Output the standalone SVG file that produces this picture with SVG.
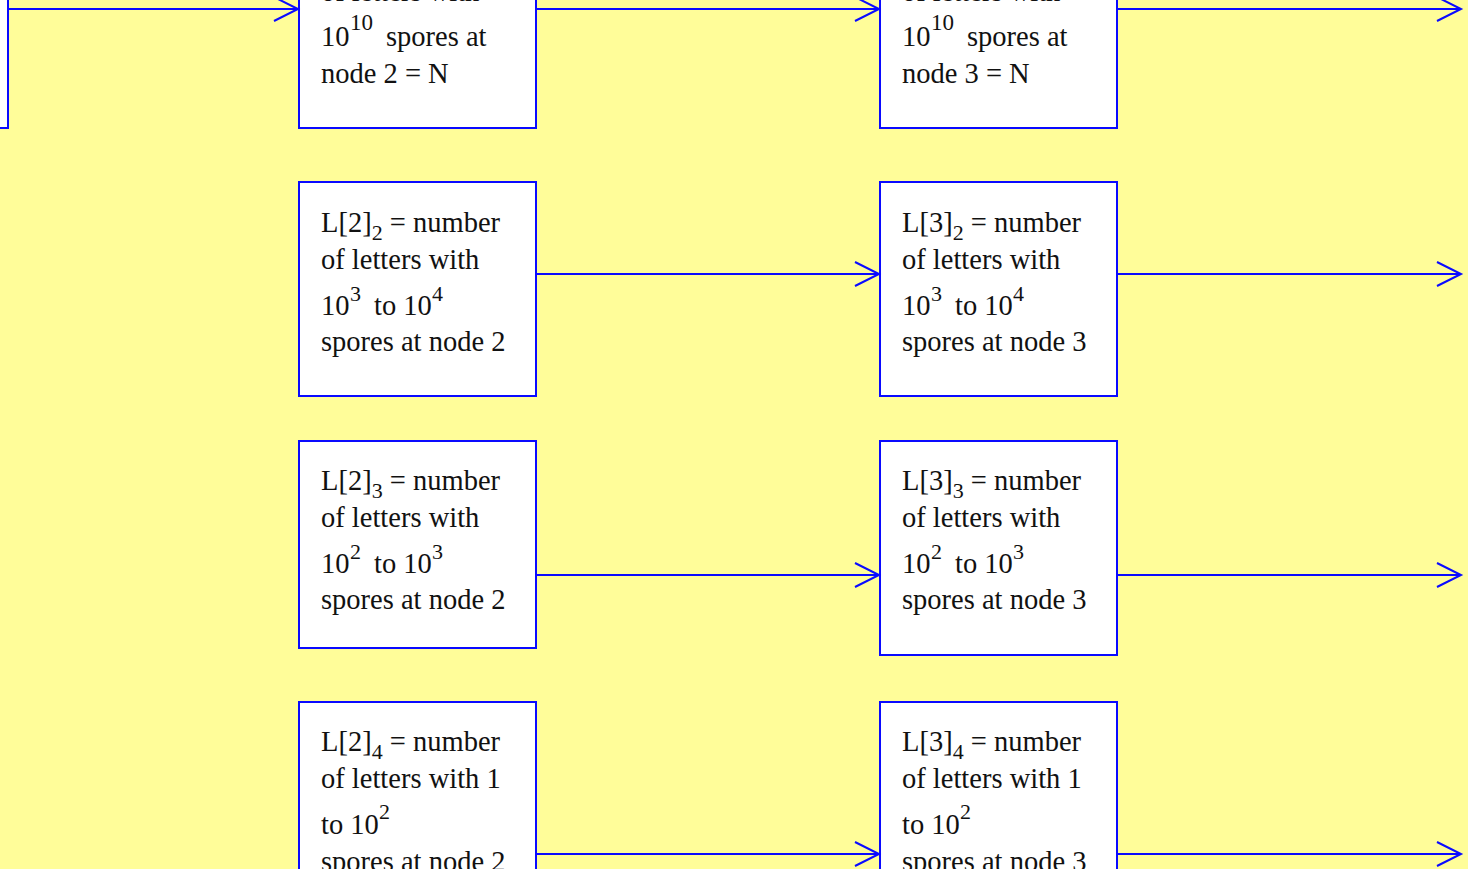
<svg xmlns="http://www.w3.org/2000/svg" width="1468" height="869" viewBox="0 0 1468 869">
  <style>
    .box { fill: #ffffff; stroke: #0a0aff; stroke-width: 2; }
    .link { fill: none; stroke: #0a0aff; stroke-width: 2; marker-end: url(#open); }
    .t { font-family: "Liberation Serif", "Times New Roman", serif; font-size: 28.5px; fill: #111111; }
    .sup { font-size: 22px; }
    .sup10 { font-size: 23px; }
  </style>
  <defs>
    <marker id="open" markerUnits="userSpaceOnUse" markerWidth="30" markerHeight="30" refX="25" refY="13" orient="auto">
      <path d="M1,1 L25,13 L1,25" fill="none" stroke="#0a0aff" stroke-width="2"/>
    </marker>
  </defs>
  <rect x="0" y="0" width="1468" height="869" fill="#fffd99"/>

  <!-- node 1 (partially off the left edge) -->
  <g id="n1">
    <rect class="box" x="-40" y="-40" width="48" height="168"/>
  </g>

  <!-- node 2 column -->
  <g id="n2_1">
    <rect class="box" x="299" y="-40" width="237" height="168"/>
    <text class="t" x="321" y="1">of letters with</text>
    <text class="t" y="46"><tspan x="321">10</tspan><tspan class="sup10" x="350" dy="-16">10</tspan><tspan x="386" dy="16">spores at</tspan></text>
    <text class="t" x="321" y="83">node 2 = N</text>
  </g>
  <g id="n2_2">
    <rect class="box" x="299" y="182" width="237" height="214"/>
    <text class="t" y="232"><tspan x="321">L[2]</tspan><tspan class="sup" dy="8">2</tspan><tspan dy="-8"> = number</tspan></text>
    <text class="t" x="321" y="269">of letters with</text>
    <text class="t" y="315"><tspan x="321">10</tspan><tspan class="sup" x="350" dy="-14">3</tspan><tspan x="374" dy="14">to 10</tspan><tspan class="sup" x="432" dy="-14">4</tspan></text>
    <text class="t" x="321" y="351">spores at node 2</text>
  </g>
  <g id="n2_3">
    <rect class="box" x="299" y="441" width="237" height="207"/>
    <text class="t" y="490"><tspan x="321">L[2]</tspan><tspan class="sup" dy="8">3</tspan><tspan dy="-8"> = number</tspan></text>
    <text class="t" x="321" y="527">of letters with</text>
    <text class="t" y="573"><tspan x="321">10</tspan><tspan class="sup" x="350" dy="-14">2</tspan><tspan x="374" dy="14">to 10</tspan><tspan class="sup" x="432" dy="-14">3</tspan></text>
    <text class="t" x="321" y="609">spores at node 2</text>
  </g>
  <g id="n2_4">
    <rect class="box" x="299" y="702" width="237" height="200"/>
    <text class="t" y="751"><tspan x="321">L[2]</tspan><tspan class="sup" dy="8">4</tspan><tspan dy="-8"> = number</tspan></text>
    <text class="t" x="321" y="788">of letters with 1</text>
    <text class="t" y="834"><tspan x="321">to 10</tspan><tspan class="sup" x="379" dy="-15">2</tspan></text>
    <text class="t" x="321" y="871">spores at node 2</text>
  </g>

  <!-- node 3 column -->
  <g id="n3_1">
    <rect class="box" x="880" y="-40" width="237" height="168"/>
    <text class="t" x="902" y="1">of letters with</text>
    <text class="t" y="46"><tspan x="902">10</tspan><tspan class="sup10" x="931" dy="-16">10</tspan><tspan x="967" dy="16">spores at</tspan></text>
    <text class="t" x="902" y="83">node 3 = N</text>
  </g>
  <g id="n3_2">
    <rect class="box" x="880" y="182" width="237" height="214"/>
    <text class="t" y="232"><tspan x="902">L[3]</tspan><tspan class="sup" dy="8">2</tspan><tspan dy="-8"> = number</tspan></text>
    <text class="t" x="902" y="269">of letters with</text>
    <text class="t" y="315"><tspan x="902">10</tspan><tspan class="sup" x="931" dy="-14">3</tspan><tspan x="955" dy="14">to 10</tspan><tspan class="sup" x="1013" dy="-14">4</tspan></text>
    <text class="t" x="902" y="351">spores at node 3</text>
  </g>
  <g id="n3_3">
    <rect class="box" x="880" y="441" width="237" height="214"/>
    <text class="t" y="490"><tspan x="902">L[3]</tspan><tspan class="sup" dy="8">3</tspan><tspan dy="-8"> = number</tspan></text>
    <text class="t" x="902" y="527">of letters with</text>
    <text class="t" y="573"><tspan x="902">10</tspan><tspan class="sup" x="931" dy="-14">2</tspan><tspan x="955" dy="14">to 10</tspan><tspan class="sup" x="1013" dy="-14">3</tspan></text>
    <text class="t" x="902" y="609">spores at node 3</text>
  </g>
  <g id="n3_4">
    <rect class="box" x="880" y="702" width="237" height="200"/>
    <text class="t" y="751"><tspan x="902">L[3]</tspan><tspan class="sup" dy="8">4</tspan><tspan dy="-8"> = number</tspan></text>
    <text class="t" x="902" y="788">of letters with 1</text>
    <text class="t" y="834"><tspan x="902">to 10</tspan><tspan class="sup" x="960" dy="-15">2</tspan></text>
    <text class="t" x="902" y="871">spores at node 3</text>
  </g>

  <!-- connectors -->
  <g id="connectors">
    <line class="link" x1="8" y1="9" x2="298" y2="9"/>
    <line class="link" x1="536" y1="9" x2="879" y2="9"/>
    <line class="link" x1="1117" y1="9" x2="1461" y2="9"/>
    <line class="link" x1="536" y1="274" x2="879" y2="274"/>
    <line class="link" x1="1117" y1="274" x2="1461" y2="274"/>
    <line class="link" x1="536" y1="575" x2="879" y2="575"/>
    <line class="link" x1="1117" y1="575" x2="1461" y2="575"/>
    <line class="link" x1="536" y1="854" x2="879" y2="854"/>
    <line class="link" x1="1117" y1="854" x2="1461" y2="854"/>
  </g>
</svg>
